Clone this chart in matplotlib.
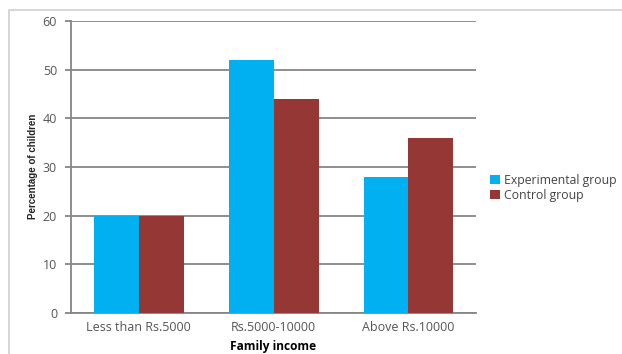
import numpy as np
import matplotlib.pyplot as plt
from matplotlib.patches import Rectangle

# Data
categories = ["Less than Rs.5000", "Rs.5000-10000", "Above Rs.10000"]
experimental = [20, 52, 28]
control = [20, 44, 36]
series_names = ["Experimental group", "Control group"]
y_ticks = [0, 10, 20, 30, 40, 50, 60]

blue = "#00B0F0"
red = "#953735"
grid_gray = "#868686"

plt.rcParams['font.family'] = ['Open Sans', 'DejaVu Sans']

fig = plt.figure(figsize=(6.22, 3.54), dpi=100)
W, H = 622, 354

# Light outer frame like the pasted Excel chart
fig.patches.append(Rectangle((9 / W, -0.1), 1.2, (H - 10) / H + 0.1,
                             transform=fig.transFigure, fill=False,
                             edgecolor="#cfcfcf", linewidth=1.2))

ax = fig.add_axes([71 / W, (H - 313) / H, (476 - 71) / W, (313 - 21) / H])

x = np.arange(len(categories))
width = 1 / 3
ax.bar(x - width / 2, experimental, width, color=blue, label=series_names[0], zorder=3)
ax.bar(x + width / 2, control, width, color=red, label=series_names[1], zorder=3)

ax.set_xlim(-0.5, len(categories) - 0.5)
ax.set_ylim(0, 60)
ax.set_yticks(y_ticks)
ax.set_xticks(x)
ax.set_xticklabels(categories)
ax.yaxis.grid(True, color=grid_gray, linewidth=1.3, zorder=0)
ax.set_axisbelow(True)

for side in ["top", "right"]:
    ax.spines[side].set_visible(False)
ax.spines["left"].set_color(grid_gray)
ax.spines["left"].set_linewidth(1.3)
ax.spines["bottom"].set_color(grid_gray)
ax.spines["bottom"].set_linewidth(1.3)

ax.tick_params(axis="y", length=4, width=1.3, color=grid_gray,
               labelsize=9, labelcolor="#555555", pad=6)
ax.tick_params(axis="x", length=0, labelsize=9, labelcolor="#555555", pad=6)

ax.set_xlabel("Family income", fontsize=8.6, fontweight="bold", labelpad=4)
fig.text(33 / W, (H - 166) / H, "Percentage of children", rotation=90,
         ha="center", va="center", fontsize=7, fontweight="bold",
         family=['Liberation Sans', 'DejaVu Sans'], color="#222222")

fig.legend(loc="upper left", bbox_to_anchor=(479 / W, (H - 163) / H),
           frameon=False, fontsize=8.8, handlelength=0.8, handleheight=0.8,
           handletextpad=0.35, labelspacing=0.15, labelcolor="#444444")

fig.savefig("out.png", dpi=100)
